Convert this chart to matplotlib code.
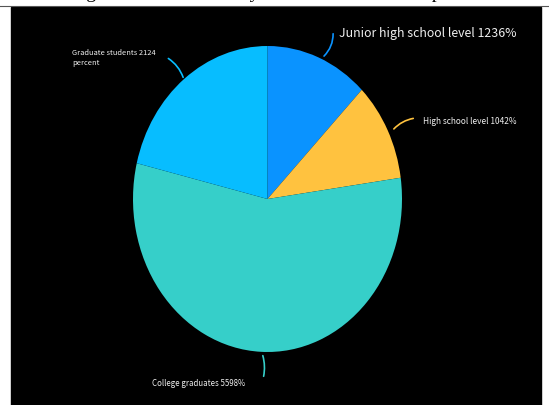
import matplotlib
matplotlib.use('Agg')
import matplotlib.pyplot as plt
import matplotlib.patches as mpatches

# data (labels kept as written)
labels = ['Junior high school level 1236%', 'High school level 1042%',
          'College graduates 5598%', 'Graduate students 2124\npercent']
values = [12.36, 10.42, 55.98, 21.24]
colors = ['#0A93FF', '#FFC23F', '#36CFC9', '#07BDFF']

W, H = 549, 405
fig = plt.figure(figsize=(W / 100, H / 100), dpi=100)
fig.patch.set_facecolor('white')

def fx(px):
    return px / W

def fy(py):
    return 1 - py / H

# black panel of the screenshot + thin grey rule above it
fig.add_artist(mpatches.Rectangle((fx(11), 0), fx(541) - fx(11), fy(7),
                                  transform=fig.transFigure, color='black', zorder=-5))
fig.add_artist(plt.Line2D([0, 1], [fy(5.5), fy(5.5)], transform=fig.transFigure,
                          color='#555555', lw=0.8, zorder=-4))

# cut-off caption at the very top (only descenders show)
fig.text(fx(70), fy(-2.5), 'Figure 2 Distribution by education level of respondents',
         family='Liberation Serif', fontsize=14, color='black', va='baseline')

# pie axes, stretched to an ellipse
ax = fig.add_axes([fx(133), fy(352), fx(402) - fx(133), fy(46) - fy(352)])
ax.pie(values, colors=colors, startangle=90, counterclock=False,
       wedgeprops=dict(linewidth=0))
ax.set_aspect('auto')
ax.set_xlim(-1, 1)
ax.set_ylim(-1, 1)
ax.axis('off')

# label positions / leader lines in data coords of the pie axes
def dx(px):
    return (px - 267.5) / 134.5

def dy(py):
    return (199 - py) / 153.0

lab_style = [
    dict(xy=(322, 58), xytext=(333, 31), tx=(339, 33), size=8.9, ha='left', rad=-0.25),
    dict(xy=(392, 131), xytext=(416, 118), tx=(423, 121), size=6.0, ha='left', rad=0.2),
    dict(xy=(262, 353), xytext=(263, 379), tx=(245, 384), size=5.7, ha='right', rad=0.15),
    dict(xy=(184, 80), xytext=(166, 57), tx=(72, 58), size=5.4, ha='left', rad=-0.2),
]

for lab, col, st in zip(labels, colors, lab_style):
    ax.annotate('', xy=(dx(st['xy'][0]), dy(st['xy'][1])),
                xytext=(dx(st['xytext'][0]), dy(st['xytext'][1])),
                arrowprops=dict(arrowstyle='-', color=col, lw=1.2,
                                connectionstyle='arc3,rad=%s' % st['rad']),
                annotation_clip=False)
    ax.text(dx(st['tx'][0]), dy(st['tx'][1]), lab, color='#EEEEEE',
            fontsize=st['size'], family=['Noto Sans CJK SC', 'DejaVu Sans'],
            ha=st['ha'], va='center', linespacing=1.4, clip_on=False)

fig.savefig('out.png', dpi=100, facecolor=fig.get_facecolor())
